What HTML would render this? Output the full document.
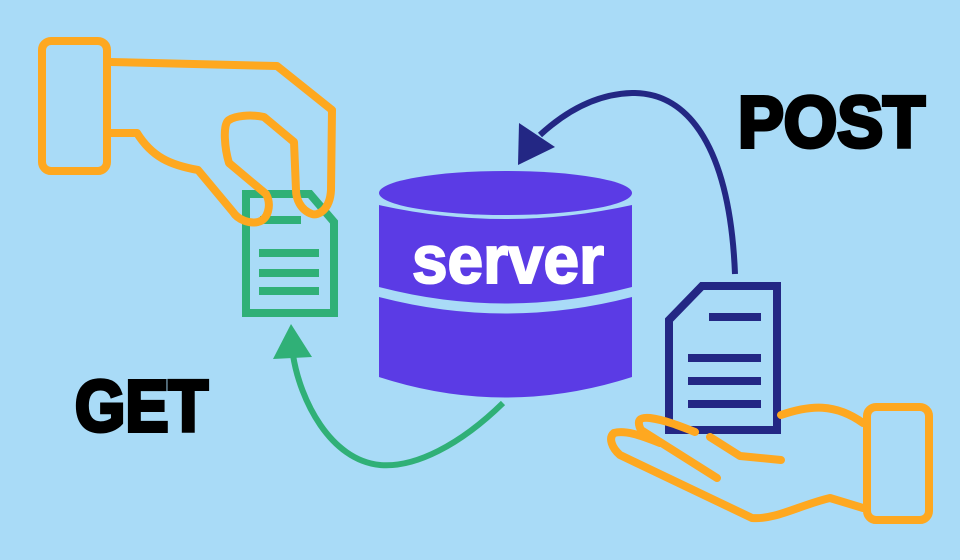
<!DOCTYPE html>
<html><head><meta charset="utf-8"><style>
html,body{margin:0;padding:0;background:#a9dbf7;}
svg{display:block}
</style></head><body>
<svg width="960" height="560" viewBox="0 0 960 560" xmlns="http://www.w3.org/2000/svg">
<rect width="960" height="560" fill="#a9dbf7"/>
<!-- server -->
<g fill="#5b3be5">
<path d="M379 205 Q505 233 632 205 L632 287 Q505 320 379 287 Z"/>
<path d="M379 297 Q505 330 632 297 L632 377 Q505 418 379 377 Z"/>
<ellipse cx="505.5" cy="193" rx="126.5" ry="22"/>
</g>
<text x="508" y="283" text-anchor="middle" font-family="Liberation Sans, sans-serif" font-weight="bold" font-size="68" fill="#fff" stroke="#fff" stroke-width="2" textLength="192" lengthAdjust="spacingAndGlyphs">server</text>
<!-- blue arrow -->
<path d="M735 274 C730 150 690 92 632 93 C595 94 565 112 540 135" fill="none" stroke="#232784" stroke-width="6"/>
<polygon points="518,165 519,123 555,147" fill="#232784"/>
<!-- green arrow -->
<path d="M503 403 C460 445 415 468 380 465 C330 460 300 400 293 355" fill="none" stroke="#30b077" stroke-width="6"/>
<polygon points="291,324 273,359 312,357" fill="#30b077"/>
<!-- green doc -->
<g fill="none" stroke="#30b077" stroke-width="8">
<path d="M246 194 L310 194 L334 222 L334 313 L246 313 Z"/>
</g>
<g fill="#30b077">
<rect x="260" y="216" width="41" height="8"/>
<rect x="259" y="249" width="60" height="8"/>
<rect x="259" y="269" width="60" height="8"/>
<rect x="259" y="287" width="60" height="8"/>
</g>
<!-- top hand -->
<g fill="none" stroke="#fea820" stroke-width="8" stroke-linejoin="round" stroke-linecap="round">
<rect x="42" y="41" width="65" height="130" rx="9"/>
<path d="M110 62 L277 66 L332 110 L331 190 C330 210 318 216 312 214 C300 210 296 198 296 190 L294 142 L264 117 C250 114 235 116 229 120 C222 124 225 150 229 163 L266 194 C272 205 268 220 258 222 C250 224 238 220 233 212 L198 170 C170 165 152 157 137 133 L110 133"/>
</g>
<!-- navy doc -->
<g fill="none" stroke="#232784" stroke-width="8">
<path d="M702 286 L777 286 L777 430 L669 430 L669 320 Z"/>
</g>
<g fill="#232784">
<rect x="709" y="313" width="52" height="8"/>
<rect x="688" y="354" width="73" height="8"/>
<rect x="688" y="377" width="73" height="8"/>
<rect x="688" y="400" width="73" height="8"/>
</g>
<!-- bottom hand -->
<g fill="none" stroke="#fea820" stroke-width="8" stroke-linejoin="round" stroke-linecap="round">
<rect x="867" y="407" width="62" height="113" rx="9"/>
<path d="M781 415 C810 405 835 403 863 423"/>
<path d="M863 508 L830 498 C800 505 775 520 752 518 L620 455 C612 448 608 438 614 433 C625 430 640 435 660 443"/>
<path d="M717 478 L641 430 C636 420 640 417 650 418 C665 420 680 426 695 432"/>
<path d="M710 437 L740 456 L781 460"/>
</g>
<!-- labels -->
<text x="75" y="431" font-family="Liberation Sans, sans-serif" font-weight="bold" font-size="72" fill="#000" stroke="#000" stroke-width="4" textLength="133" lengthAdjust="spacingAndGlyphs">GET</text>
<text x="738" y="147" font-family="Liberation Sans, sans-serif" font-weight="bold" font-size="72" fill="#000" stroke="#000" stroke-width="4" textLength="187" lengthAdjust="spacingAndGlyphs">POST</text>
</svg>
</body></html>
